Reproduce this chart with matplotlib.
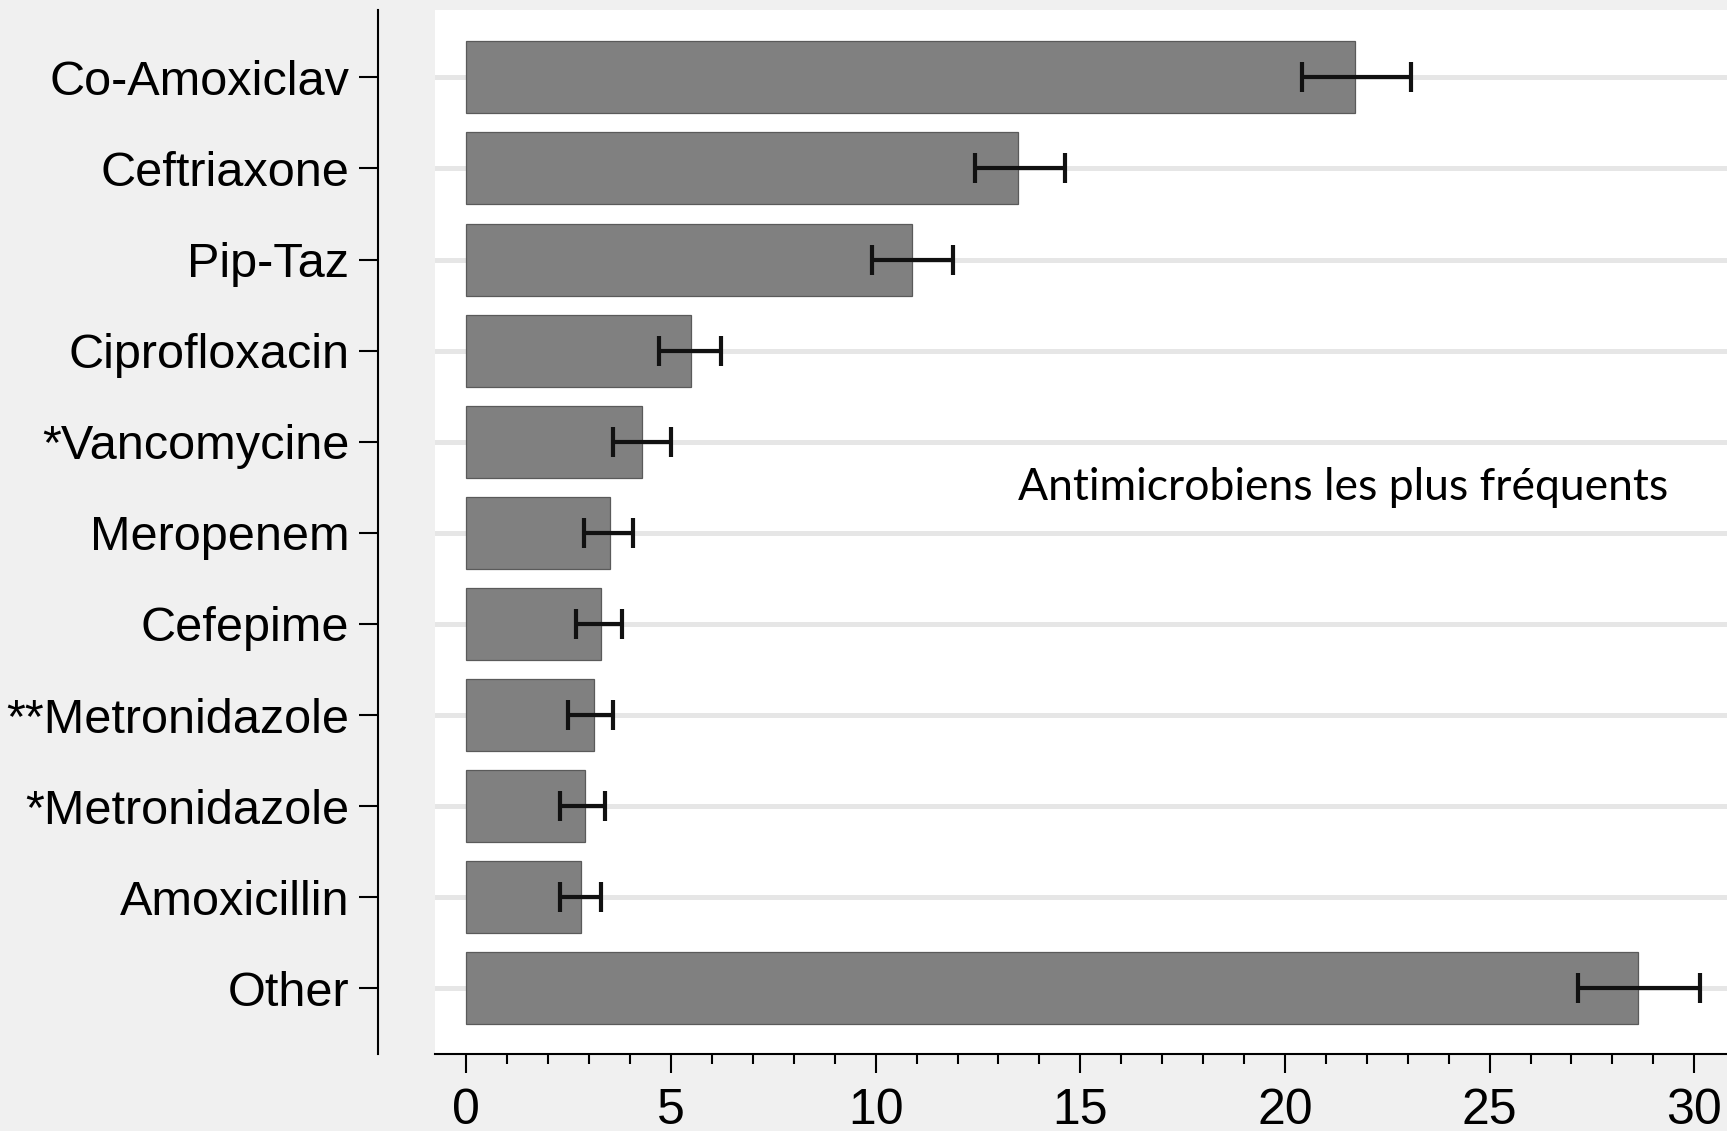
#!/usr/bin/env python

import matplotlib
matplotlib.use("Agg")
import matplotlib.pyplot as plt
import numpy as np

# most frequent antimicrobials, percent with 95% CI
drugs = ["Co-Amoxiclav", "Ceftriaxone", "Pip-Taz", "Ciprofloxacin", "*Vancomycine",
         "Meropenem", "Cefepime", "**Metronidazole", "*Metronidazole", "Amoxicillin", "Other"]
pct = [21.70, 13.48, 10.90, 5.48, 4.28, 3.50, 3.28, 3.11, 2.89, 2.80, 28.63]
ci_low = [20.41, 12.42, 9.90, 4.71, 3.58, 2.88, 2.69, 2.49, 2.30, 2.30, 27.15]
ci_high = [23.07, 14.63, 11.90, 6.21, 5.01, 4.08, 3.81, 3.58, 3.38, 3.30, 30.14]

xticks = [0, 5, 10, 15, 20, 25, 30]
note = "Antimicrobiens les plus fréquents"

pos = np.arange(len(drugs))
err = [np.array(pct) - np.array(ci_low), np.array(ci_high) - np.array(pct)]

fig = plt.figure(figsize=(17.27, 11.31), dpi=100, facecolor="#f0f0f0")
ax = fig.add_axes([0.2519, 0.0681, 0.7481, 0.9231], facecolor="white")

# light grid lines at each category, behind bars
for p in pos:
    ax.axhline(p, color="#e6e6e6", linewidth=3.6, zorder=0)

ax.barh(pos, pct, height=0.79, color="#808080", edgecolor="#5a5a5a", linewidth=0.9, zorder=2)
ax.errorbar(pct, pos, xerr=err, fmt="none", ecolor="#111111", elinewidth=3.0,
            capsize=11, capthick=3.0, zorder=3)

# spines first: moving the left spine resets the ticks
for s in ["top", "right"]:
    ax.spines[s].set_visible(False)
ax.spines["left"].set_position(("outward", 41))
ax.spines["left"].set_linewidth(1.5)
ax.spines["bottom"].set_linewidth(1.5)

ax.set_ylim(10.72, -0.74)
ax.set_xlim(-0.765, 30.8)
ax.set_yticks(pos)
ax.set_yticklabels(drugs, fontsize=35, family="Liberation Sans")
ax.set_xticks(xticks)
ax.set_xticklabels([str(t) for t in xticks], fontsize=36, family="Liberation Sans")
ax.set_xticks(np.arange(0, 31, 1), minor=True)

ax.tick_params(axis="y", length=13.7, width=1.5, pad=7, color="black")
ax.tick_params(axis="x", which="major", length=13.7, width=1.5, pad=11)
ax.tick_params(axis="x", which="minor", length=7.2, width=1.5)

ax.text(13.49, 4.5, note, fontsize=32, family="Lato", va="center", ha="left", zorder=4)

plt.savefig("out.png", dpi=100, facecolor=fig.get_facecolor())
plt.close()
